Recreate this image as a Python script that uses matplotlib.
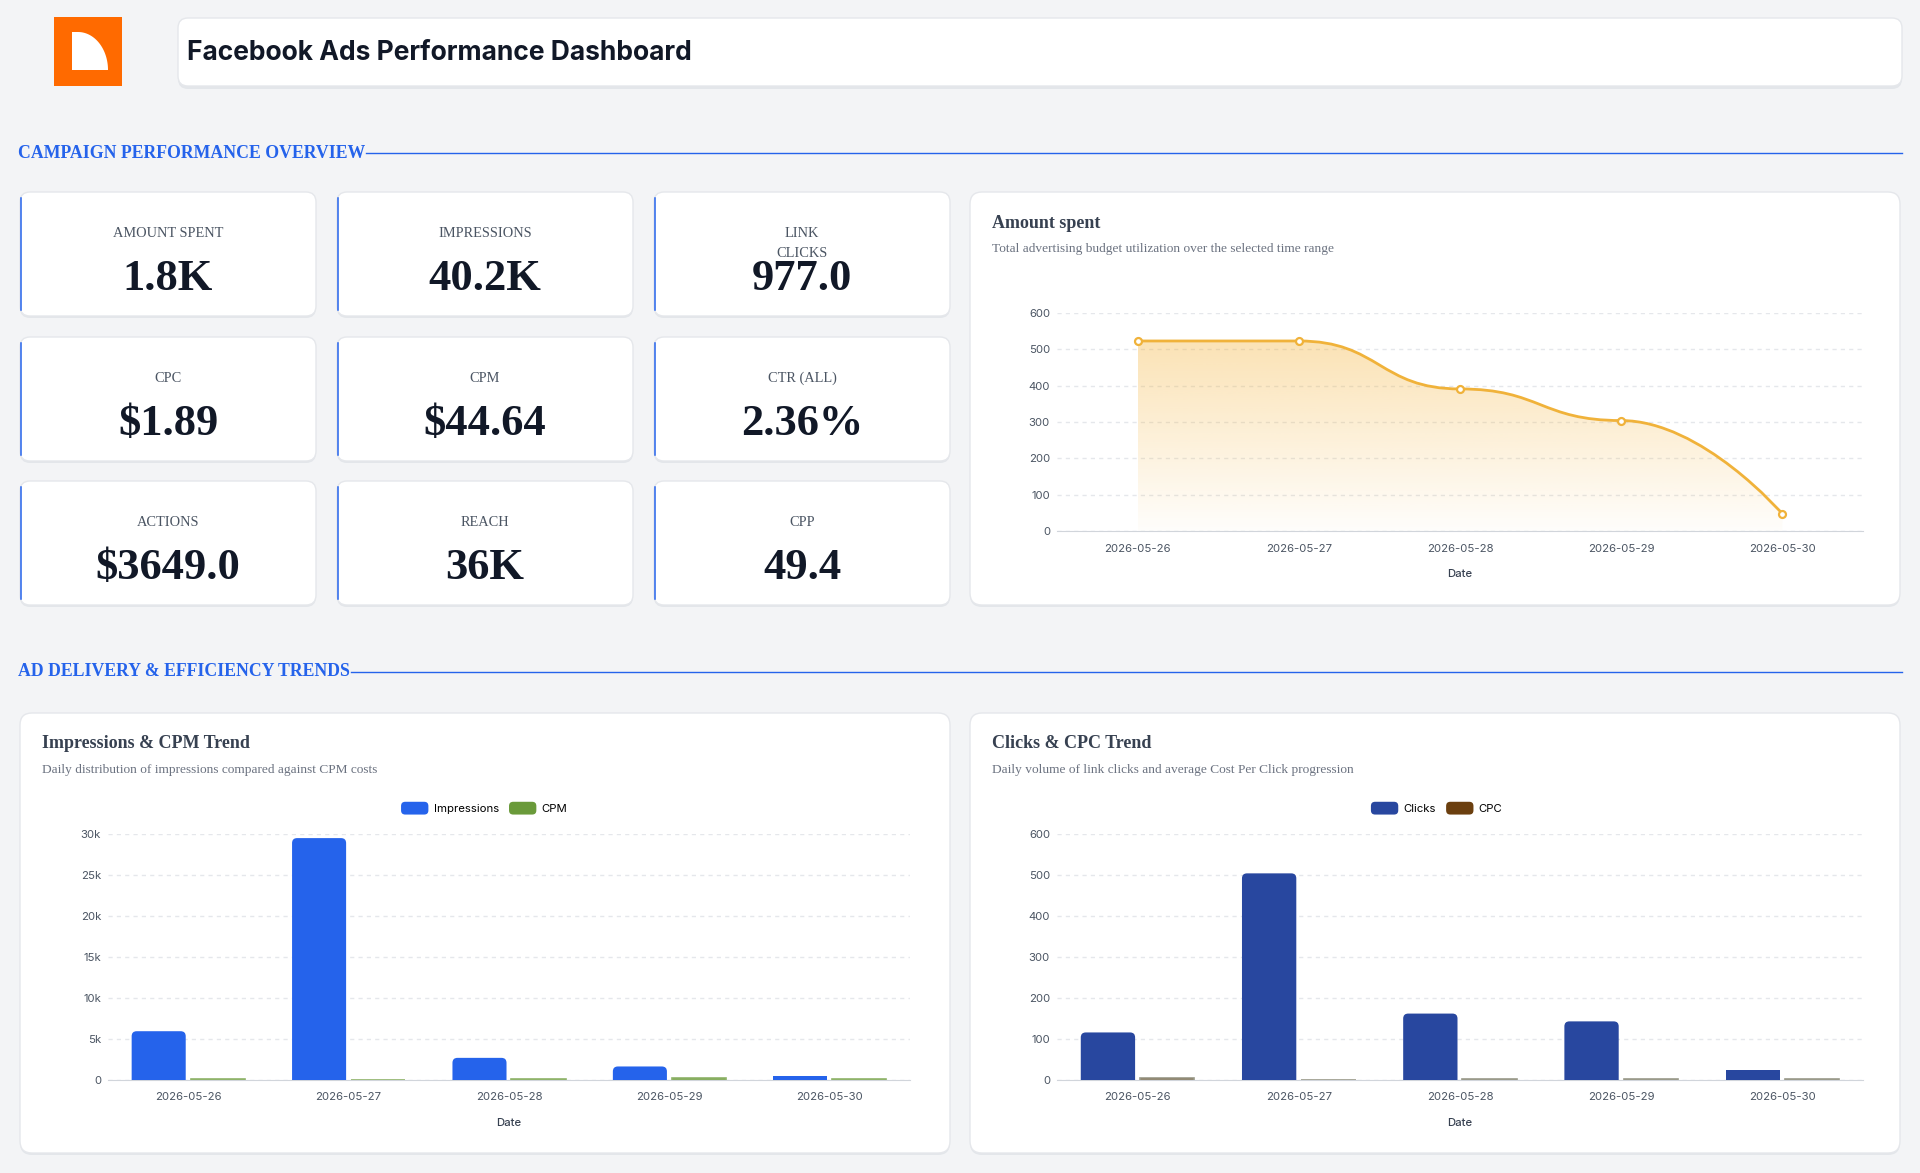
import numpy as np
import matplotlib
matplotlib.use('Agg')
import matplotlib.pyplot as plt
from matplotlib.patches import FancyBboxPatch, Patch, Polygon, PathPatch
from matplotlib.path import Path
from matplotlib.legend_handler import HandlerPatch
from matplotlib.ticker import FuncFormatter

plt.rcParams['font.family'] = ['Inter', 'DejaVu Sans']

# data
dates = ['2026-05-26', '2026-05-27', '2026-05-28', '2026-05-29', '2026-05-30']
amount_spent = [523, 523, 391, 304, 47]
impressions = [5950, 29500, 2700, 1650, 430]
cpm = [88, 18, 145, 184, 109]
clicks = [116, 504, 162, 143, 24]
cpc = [4.5, 1.04, 2.41, 2.13, 1.96]

kpi_labels = ['AMOUNT SPENT', 'IMPRESSIONS', 'LINK\nCLICKS',
              'CPC', 'CPM', 'CTR (ALL)',
              'ACTIONS', 'REACH', 'CPP']
kpi_values = ['1.8K', '40.2K', '977.0',
              '$1.89', '$44.64', '2.36%',
              '$3649.0', '36K', '49.4']

W, H = 1920, 1173
SERIF = 'Liberation Serif'
DARK = '#111827'
GREY = '#6b7280'
BLUE = '#2563eb'
TICK = 8.2

fig = plt.figure(figsize=(19.2, 11.73), dpi=100)
fig.patch.set_facecolor('#f3f4f6')
bg = fig.add_axes([0, 0, 1, 1])
bg.set_xlim(0, W)
bg.set_ylim(H, 0)
bg.axis('off')


def card(x, y, w, h, r=12, shadow=2):
    bg.add_patch(FancyBboxPatch((x, y + shadow), w, h, boxstyle=f'round,pad=0,rounding_size={r}',
                                fc='#e3e6ea', ec='none', zorder=1))
    bg.add_patch(FancyBboxPatch((x, y), w, h, boxstyle=f'round,pad=0,rounding_size={r}',
                                fc='white', ec='#e5e7eb', lw=1, zorder=2))


def px_axes(l, t, r, b):
    return fig.add_axes([l / W, 1 - b / H, (r - l) / W, (b - t) / H])


def section(y, text):
    t = bg.text(18, y, text, family=SERIF, fontweight='bold', fontsize=12.8, color=BLUE, va='center')
    fig.canvas.draw()
    x1 = t.get_window_extent(fig.canvas.get_renderer()).x1
    bg.plot([x1 + 1, 1902], [y, y], color=BLUE, lw=1)


# logo
bg.add_patch(plt.Rectangle((54, 17), 68, 69, fc='#ff6a00', ec='none'))
ang = np.linspace(np.pi / 2, 0, 40)
logo_pts = [(72, 70), (72, 32)] + [(78 + 30 * np.cos(a), 70 - 38 * np.sin(a)) for a in ang]
bg.add_patch(Polygon(logo_pts, closed=True, fc='white', ec='none'))

# header
card(178, 18, 1724, 68, r=10, shadow=3)
bg.text(187, 53, 'Facebook Ads Performance Dashboard', fontsize=19, fontweight='bold',
        color=DARK, va='center', zorder=3)

section(153, 'CAMPAIGN PERFORMANCE OVERVIEW')
section(672, 'AD DELIVERY & EFFICIENCY TRENDS')

# KPI cards
card_x = [20, 337, 654]
card_y = [192, 337, 481]
cw, ch = 296, 124
for i, (lab, val) in enumerate(zip(kpi_labels, kpi_values)):
    x = card_x[i % 3]
    y = card_y[i // 3]
    card(x, y, cw, ch, r=10)
    bg.plot([x + 0.6, x + 0.6], [y + 6, y + ch - 6], color=BLUE, lw=1.1, zorder=3)
    for k, ln in enumerate(lab.split('\n')):
        bg.text(x + cw / 2, y + 41.5 + 20 * k, ln, family=SERIF, fontsize=10.4, color='#4b5563',
                ha='center', va='center', zorder=3)
    bg.text(x + cw / 2, y + 87, val, family=SERIF, fontweight='bold', fontsize=32,
            color=DARK, ha='center', va='center', zorder=3)

# chart cards
charts = [
    (970, 192, 413, 'Amount spent', 'Total advertising budget utilization over the selected time range'),
    (20, 713, 440, 'Impressions & CPM Trend', 'Daily distribution of impressions compared against CPM costs'),
    (970, 713, 440, 'Clicks & CPC Trend', 'Daily volume of link clicks and average Cost Per Click progression'),
]
for cx, cy, chh, title, sub in charts:
    card(cx, cy, 930, chh, r=12)
    bg.text(cx + 22, cy + 31, title, family=SERIF, fontweight='bold', fontsize=13,
            color='#374151', va='center', zorder=3)
    bg.text(cx + 22, cy + 57, sub, family=SERIF, fontsize=9.6, color=GREY, va='center', zorder=3)


def style(ax, ymax, step, fmt=None):
    ax.set_xlim(-0.5, 4.5)
    ax.set_ylim(0, ymax)
    ax.set_yticks(np.arange(0, ymax + 1, step))
    if fmt:
        ax.yaxis.set_major_formatter(FuncFormatter(fmt))
    ax.set_xticks(range(len(dates)))
    ax.set_xticklabels(dates)
    ax.yaxis.grid(True, ls=(0, (3, 3)), color='#e5e7eb', lw=1)
    ax.set_axisbelow(True)
    for s in ['top', 'right', 'left']:
        ax.spines[s].set_visible(False)
    ax.spines['bottom'].set_color('#d1d5db')
    ax.tick_params(length=0, labelsize=TICK, colors='#4b5563')
    ax.tick_params(axis='x', pad=9)
    ax.tick_params(axis='y', pad=5)
    ax.set_xlabel('Date', fontsize=TICK, color='#374151', labelpad=11, fontweight='medium')
    ax.patch.set_alpha(0)


def smooth_path(xs, ys, smooth=0.5):
    # monotone-x smoothing: flat tangents at the inner points
    P = list(zip(map(float, xs), map(float, ys)))
    verts = [P[0]]
    codes = [Path.MOVETO]
    cp0 = P[0]
    for i in range(1, len(P)):
        x, y = P[i]
        px_ = P[i - 1][0]
        if i == len(P) - 1:
            cp1, ncp0 = P[i], None
        else:
            nx = P[i + 1][0]
            cp1 = (x - (x - px_) * smooth, y)
            ncp0 = (x + (nx - x) * smooth, y)
        verts += [cp0, cp1, P[i]]
        codes += [Path.CURVE4] * 3
        cp0 = ncp0
    return verts, codes


def round_bars(ax, bars, rpx=5):
    bb = ax.get_position()
    x0, x1 = ax.get_xlim()
    y0, y1 = ax.get_ylim()
    rx = rpx / (bb.width * W / (x1 - x0))
    ry = rpx / (bb.height * H / (y1 - y0))
    for rect in bars:
        h = rect.get_height()
        if h < 2 * ry:
            continue
        rect.set_visible(False)
        ax.add_patch(FancyBboxPatch((rect.get_x(), -ry), rect.get_width(), h + ry,
                                    boxstyle=f'round,pad=0,rounding_size={rx}',
                                    mutation_aspect=ry / rx, fc=rect.get_facecolor(),
                                    ec='none', zorder=rect.get_zorder()))


def legend(ax, colors, labels, xc):
    rh = HandlerPatch(patch_func=lambda legend, orig_handle, xdescent, ydescent, width, height, fontsize:
                      FancyBboxPatch((-xdescent, -ydescent), width, height,
                                     boxstyle='round,pad=0,rounding_size=3'))
    handles = [Patch(fc=c) for c in colors]
    ax.legend(handles=handles, labels=labels, loc='center', bbox_to_anchor=(xc, 1.105), ncol=2,
              frameon=False, fontsize=TICK, handlelength=2.4, handleheight=1.35,
              handletextpad=0.45, columnspacing=0.9, handler_map={Patch: rh})


x = np.arange(len(dates))

# amount spent line
ax1 = px_axes(1057, 313, 1863, 531)
style(ax1, 600, 100)
verts, codes = smooth_path(x, amount_spent)
line_path = Path(verts, codes)
area_path = Path(verts + [(x[-1], 0), (x[0], 0), (x[0], 0)],
                 codes + [Path.LINETO, Path.LINETO, Path.CLOSEPOLY])
grad = np.zeros((256, 1, 4))
grad[..., 0] = 245 / 255
grad[..., 1] = 180 / 255
grad[..., 2] = 60 / 255
grad[:, 0, 3] = np.linspace(0.02, 0.38, 256)
img = ax1.imshow(grad, extent=[x[0], x[-1], 0, max(amount_spent)], origin='lower',
                 aspect='auto', zorder=1)
area = PathPatch(area_path, fc='none', ec='none', transform=ax1.transData)
ax1.add_patch(area)
img.set_clip_path(area)
ax1.add_patch(PathPatch(line_path, fc='none', ec='#f0b23a', lw=2, zorder=3))
ax1.plot(x, amount_spent, 'o', ms=5, mfc='white', mec='#f0b23a', mew=1.6, zorder=4)
ax1.set_xlim(-0.5, 4.5)
ax1.set_ylim(0, 600)

# impressions & cpm
ax2 = px_axes(108, 834, 910, 1080)
style(ax2, 30000, 5000, lambda v, p: '0' if v == 0 else f'{int(v / 1000)}k')
b = ax2.bar(x - 0.184, impressions, 0.337, color='#2563eb', zorder=3)
ax2.bar(x + 0.184, cpm, 0.337, color='#6a9a3a', ec='#8fb36a', lw=1.2, zorder=3)
round_bars(ax2, b)
legend(ax2, ['#2563eb', '#6a9a3a'], ['Impressions', 'CPM'], 0.469)

# clicks & cpc
ax3 = px_axes(1057, 834, 1863, 1080)
style(ax3, 600, 100)
b = ax3.bar(x - 0.184, clicks, 0.337, color='#28479f', zorder=3)
ax3.bar(x + 0.184, cpc, 0.337, color='#6b3f0f', ec='#9a9a8a', lw=1.2, zorder=3)
round_bars(ax3, b)
legend(ax3, ['#28479f', '#6b3f0f'], ['Clicks', 'CPC'], 0.471)

fig.savefig('out.png', dpi=100, facecolor=fig.get_facecolor())
